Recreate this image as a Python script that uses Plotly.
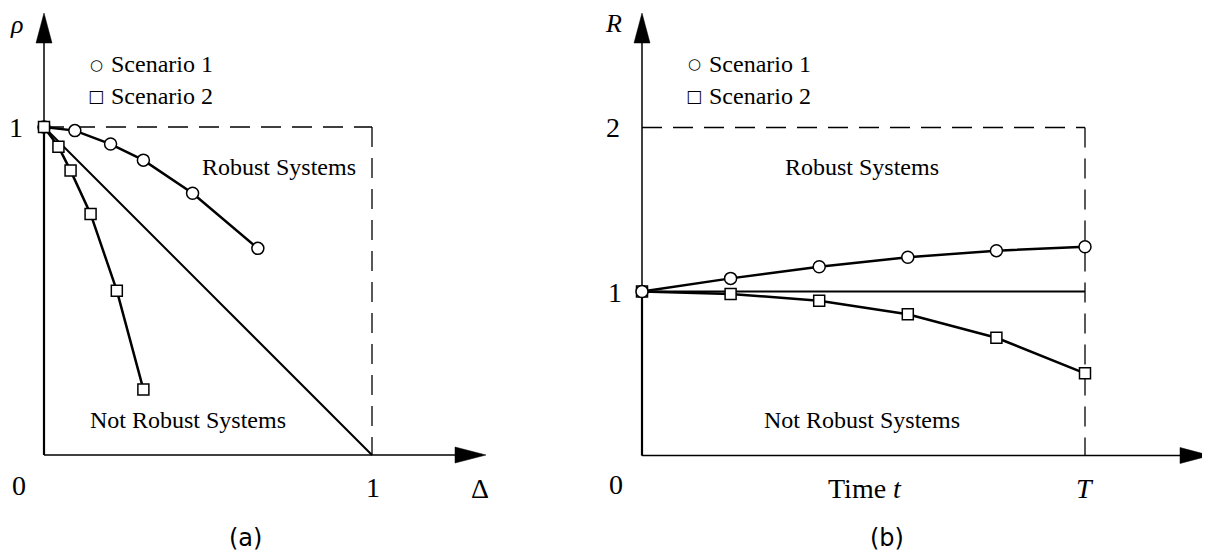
import plotly.graph_objects as go

W, H = 1210, 553      # browser window
OFF = 8               # default body margin of the page
FW, FH = W - OFF, H - OFF

# ---------------- data ----------------
# Panel (a): rho vs Delta
s1_delta = [0, 0.094, 0.203, 0.303, 0.453, 0.652]
s1_rho = [1, 0.989, 0.948, 0.899, 0.798, 0.630]
s2_delta = [0, 0.044, 0.081, 0.142, 0.222, 0.303]
s2_rho = [1, 0.940, 0.867, 0.735, 0.501, 0.200]
boundary_a_x = [0, 1]
boundary_a_y = [1, 0]

# Panel (b): R vs time (T = 1)
t_vals = [0, 0.2, 0.4, 0.6, 0.8, 1.0]
s1_R = [1, 1.080, 1.151, 1.209, 1.249, 1.273]
s2_R = [1, 0.985, 0.944, 0.861, 0.718, 0.501]
boundary_b_x = [0, 1]
boundary_b_y = [1, 1]

legend_symbols = ["○", "□"]
legend_labels = ["Scenario 1", "Scenario 2"]
region_labels = ["Robust Systems", "Not Robust Systems"]

SERIF = "Liberation Serif, Times New Roman, serif"
SANS = "DejaVu Sans, Verdana, sans-serif"

fig = go.Figure()

mk_circle = dict(symbol="circle", size=12, color="white", line=dict(color="black", width=1.5))
mk_square = dict(symbol="square", size=11, color="white", line=dict(color="black", width=1.5))

# boundaries
fig.add_trace(go.Scatter(x=boundary_a_x, y=boundary_a_y, mode="lines",
                         line=dict(color="black", width=2), xaxis="x", yaxis="y",
                         showlegend=False, hoverinfo="skip"))
fig.add_trace(go.Scatter(x=boundary_b_x, y=boundary_b_y, mode="lines",
                         line=dict(color="black", width=2), xaxis="x2", yaxis="y2",
                         showlegend=False, hoverinfo="skip"))
# series panel a
fig.add_trace(go.Scatter(x=s1_delta, y=s1_rho, mode="lines+markers", name="Scenario 1",
                         line=dict(color="black", width=2.5), marker=mk_circle,
                         xaxis="x", yaxis="y", showlegend=False, cliponaxis=False))
fig.add_trace(go.Scatter(x=s2_delta, y=s2_rho, mode="lines+markers", name="Scenario 2",
                         line=dict(color="black", width=2.5), marker=mk_square,
                         xaxis="x", yaxis="y", showlegend=False, cliponaxis=False))
# series panel b
fig.add_trace(go.Scatter(x=t_vals, y=s2_R, mode="lines+markers", name="Scenario 2",
                         line=dict(color="black", width=2.5), marker=mk_square,
                         xaxis="x2", yaxis="y2", showlegend=False, cliponaxis=False))
fig.add_trace(go.Scatter(x=t_vals, y=s1_R, mode="lines+markers", name="Scenario 1",
                         line=dict(color="black", width=2.5), marker=mk_circle,
                         xaxis="x2", yaxis="y2", showlegend=False, cliponaxis=False))

# ---------------- axes (pixel-calibrated, window pixels) ----------------
# panel a: x 0->px44, 1->px372 ; y 0->px455, 1->px127
ax_sc, ay_sc = 328.0, 328.0
ax0, ay0 = 44.0, 455.0
# panel b: x 0->px642, 1->px1085 ; y 0->px455.5, 1->px291.5
bx_sc, by_sc = 443.0, 164.0
bx0, by0 = 642.0, 455.5
SPLIT = 605.0

fig.update_layout(
    xaxis=dict(domain=[0, (SPLIT - OFF) / FW],
               range=[(OFF - ax0) / ax_sc, (SPLIT - ax0) / ax_sc], visible=False, fixedrange=True),
    yaxis=dict(domain=[0, 1], range=[-(H - ay0) / ay_sc, (ay0 - OFF) / ay_sc], visible=False, fixedrange=True),
    xaxis2=dict(domain=[(SPLIT - OFF) / FW, 1],
                range=[(SPLIT - bx0) / bx_sc, (W - bx0) / bx_sc], visible=False, fixedrange=True),
    yaxis2=dict(domain=[0, 1], range=[-(H - by0) / by_sc, (by0 - OFF) / by_sc], anchor="x2",
                visible=False, fixedrange=True),
)

shapes = []
def line(xr, yr, x0, y0, x1, y1, w=1.5, dash=None):
    d = dict(type="line", xref=xr, yref=yr, x0=x0, y0=y0, x1=x1, y1=y1,
             line=dict(color="black", width=w), layer="below")
    if dash:
        d["line"]["dash"] = dash
    shapes.append(d)

def tri(xr, yr, pts):
    p = "M " + " L ".join(f"{x},{y}" for x, y in pts) + " Z"
    shapes.append(dict(type="path", xref=xr, yref=yr, path=p, fillcolor="black",
                       line=dict(color="black", width=0.5), layer="below"))

# panel a axes
a_xend = (455 - ax0) / ax_sc
a_xtip = (486 - ax0) / ax_sc
a_yend = (ay0 - 43) / ay_sc
a_ytip = (ay0 - 13) / ay_sc
line("x", "y", 0, 0, a_xend, 0, 1.5)
line("x", "y", 0, 0, 0, a_yend, 1.5)
line("x", "y", 0, 0, 0, 1, 2.2)
tri("x", "y", [(a_xend, 8 / ay_sc), (a_xtip, 0), (a_xend, -8 / ay_sc)])
tri("x", "y", [(-8 / ax_sc, a_yend), (0, a_ytip), (8 / ax_sc, a_yend)])
line("x", "y", 0, 1, 1, 1, 1.3, "20px,11px")
line("x", "y", 1, 1, 1, 0, 1.3, "20px,11px")

# panel b axes
b_xend = (1180 - bx0) / bx_sc
b_xtip = (1210 - bx0) / bx_sc
b_yend = (by0 - 43) / by_sc
b_ytip = (by0 - 13) / by_sc
line("x2", "y2", 0, 0, b_xend, 0, 1.5)
line("x2", "y2", 0, 0, 0, b_yend, 1.5)
line("x2", "y2", 0, 0, 0, 1, 2.2)
tri("x2", "y2", [(b_xend, 8 / by_sc), (b_xtip, 0), (b_xend, -8 / by_sc)])
tri("x2", "y2", [(-8 / bx_sc, b_yend), (0, b_ytip), (8 / bx_sc, b_yend)])
line("x2", "y2", 0, 2, 1, 2, 1.3, "20px,11px")
line("x2", "y2", 1, 2, 1, 0, 1.3, "20px,11px")

# ---------------- text ----------------
ann = []
def txt(s, px, py, size=24, font=SERIF, xanchor="center"):
    ann.append(dict(text=s, x=(px - OFF) / FW, y=1 - (py - OFF) / FH, xref="paper", yref="paper",
                    xanchor=xanchor, yanchor="middle", showarrow=False,
                    font=dict(family=font, size=size, color="black")))

TICK = 28
# panel a
txt("<i>ρ</i>", 16, 25, size=26)
txt("1", 16, 127, size=TICK)
txt("0", 19, 485, size=TICK)
txt("1", 373, 487, size=TICK)
txt("Δ", 480, 488, size=TICK)
txt(legend_symbols[0], 96, 65, size=15, font=SANS)
txt(legend_symbols[1], 96, 96, size=17, font=SANS)
txt(legend_labels[0], 109, 64, xanchor="left")
txt(legend_labels[1], 109, 96, xanchor="left")
txt(region_labels[0], 279, 167)
txt(region_labels[1], 188, 420)
txt("(a)", 245, 538, size=24, font=SANS)

# panel b
txt("<i>R</i>", 613, 23, size=26)
txt("2", 613, 127, size=TICK)
txt("1", 615, 292, size=TICK)
txt("0", 616, 484, size=TICK)
txt("Time <i>t</i>", 865, 488, size=TICK)
txt("<i>T</i>", 1085, 488, size=TICK)
txt(legend_symbols[0], 694, 64, size=15, font=SANS)
txt(legend_symbols[1], 694, 96, size=17, font=SANS)
txt(legend_labels[0], 707, 64, xanchor="left")
txt(legend_labels[1], 707, 96, xanchor="left")
txt(region_labels[0], 862, 167)
txt(region_labels[1], 862, 420)
txt("(b)", 887, 538, size=24, font=SANS)

fig.update_layout(
    width=FW, height=FH, margin=dict(l=0, r=0, t=0, b=0),
    paper_bgcolor="white", plot_bgcolor="white",
    shapes=shapes, annotations=ann, showlegend=False,
)

fig.write_html("out.html", config={"displayModeBar": False})
